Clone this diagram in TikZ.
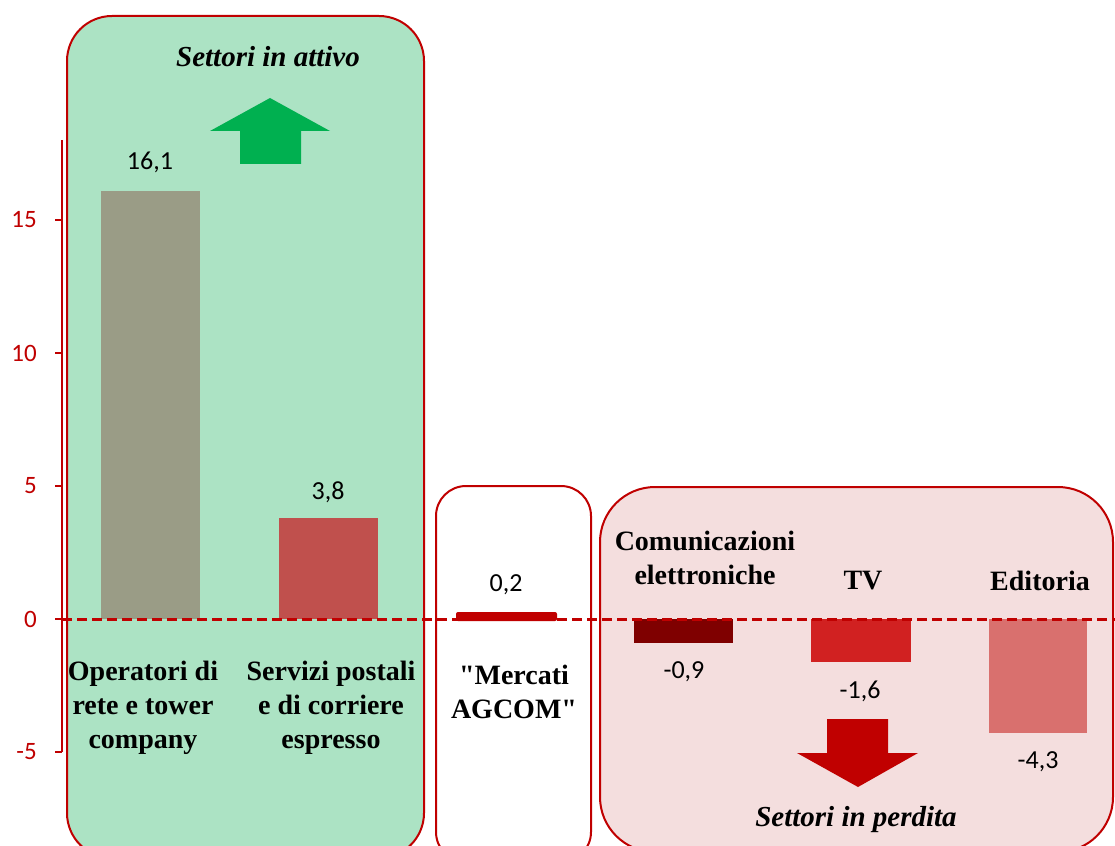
\documentclass[tikz,border=0pt]{standalone}
\usepackage{fontspec}
\setmainfont{Liberation Serif}[Ligatures=TeXOff]
\newfontfamily\numfont{Carlito}
\definecolor{boxred}{HTML}{C00000}
\definecolor{greenfill}{HTML}{ACE3C4}
\definecolor{pinkfill}{HTML}{F4DEDE}
\definecolor{arrowgreen}{HTML}{00B050}
\definecolor{barA}{HTML}{9A9C86}
\definecolor{barB}{HTML}{C0504D}
\definecolor{barC}{HTML}{C00000}
\definecolor{barD}{HTML}{7F0000}
\definecolor{barE}{HTML}{D12121}
\definecolor{barF}{HTML}{D9706E}
\begin{document}
\begin{tikzpicture}[x=1pt,y=-1pt,
  boxline/.style={draw=boxred,line width=2pt},
  catlabel/.style={font=\bfseries\fontsize{28}{34}\selectfont,align=center,inner sep=0pt},
  titlelabel/.style={font=\bfseries\itshape\fontsize{29}{34}\selectfont,inner sep=0pt},
  vallabel/.style={font=\numfont\fontsize{26}{30}\selectfont,inner sep=0pt},
  axlabel/.style={font=\numfont\fontsize{25}{30}\selectfont,text=boxred,inner sep=0pt,anchor=east},
  axisline/.style={draw=boxred,line width=1.3pt},
  zeroline/.style={draw=boxred,line width=3pt,dash pattern=on 10pt off 5pt}]
\useasboundingbox (0,0) rectangle (1115,845);
\clip (0,0) rectangle (1115,845);
\fill[white] (0,0) rectangle (1115,845);
% group boxes
\draw[boxline,fill=greenfill,rounded corners=45pt] (67,16) rectangle (424,858);
\draw[boxline,fill=white,rounded corners=30pt] (436,486) rectangle (591,862);
\draw[boxline,fill=pinkfill,rounded corners=55pt] (600,487) rectangle (1113,852);
% axis
\draw[axisline] (62,140) -- (62,752);
\foreach \v in {15,10,5,0,-5} {
  \draw[axisline] (55,{619-26.6*\v}) -- (62,{619-26.6*\v});
  \node[axlabel] at (37,{619-26.6*\v}) {\v};
}
% bars
\fill[barA] (101,190.7) rectangle (200,619);
\fill[barB] (279,517.9) rectangle (378,619);
\fill[barC,rounded corners=2pt] (456,612) rectangle (557,621);
\fill[barD] (634,619) rectangle (733,642.5);
\fill[barE] (811,619) rectangle (911,661.6);
\fill[barF] (989,619) rectangle (1087,732.5);
% zero line
\draw[zeroline] (62,619) -- (1115,619);
% value labels
\node[vallabel] (v1) at (150,162) {16,1};
\node[vallabel] (v2) at (328,492) {3,8};
\node[vallabel] (v3) at (506,585) {0,2};
\node[vallabel] (v4) at (684,672) {-0,9};
\node[vallabel] (v5) at (860,691) {-1,6};
\node[vallabel] (v6) at (1038,762) {-4,3};
% category labels
\node[catlabel] (c1) at (143,708) {Operatori di\\rete e tower\\company};
\node[catlabel] (c2) at (331,708) {Servizi postali\\e di corriere\\espresso};
\node[catlabel] (c3) at (514,692) {"Mercati\\AGCOM"};
\node[catlabel] (c4) at (705,558) {Comunicazioni\\elettroniche};
\node[catlabel] (c5) at (863,581) {TV};
\node[catlabel] (c6) at (1040,581) {Editoria};
% titles
\node[titlelabel] (t1) at (268,57) {Settori in attivo};
\node[titlelabel] (t2) at (856,820) {Settori in perdita};
% arrows
\fill[arrowgreen] (270,98) -- (330,131) -- (301,131) -- (301,164) -- (240,164) -- (240,131) -- (210,131) -- cycle;
\fill[barC] (827,719) -- (888,719) -- (888,753) -- (918,753) -- (858,787) -- (797,753) -- (827,753) -- cycle;
\end{tikzpicture}
\end{document}
